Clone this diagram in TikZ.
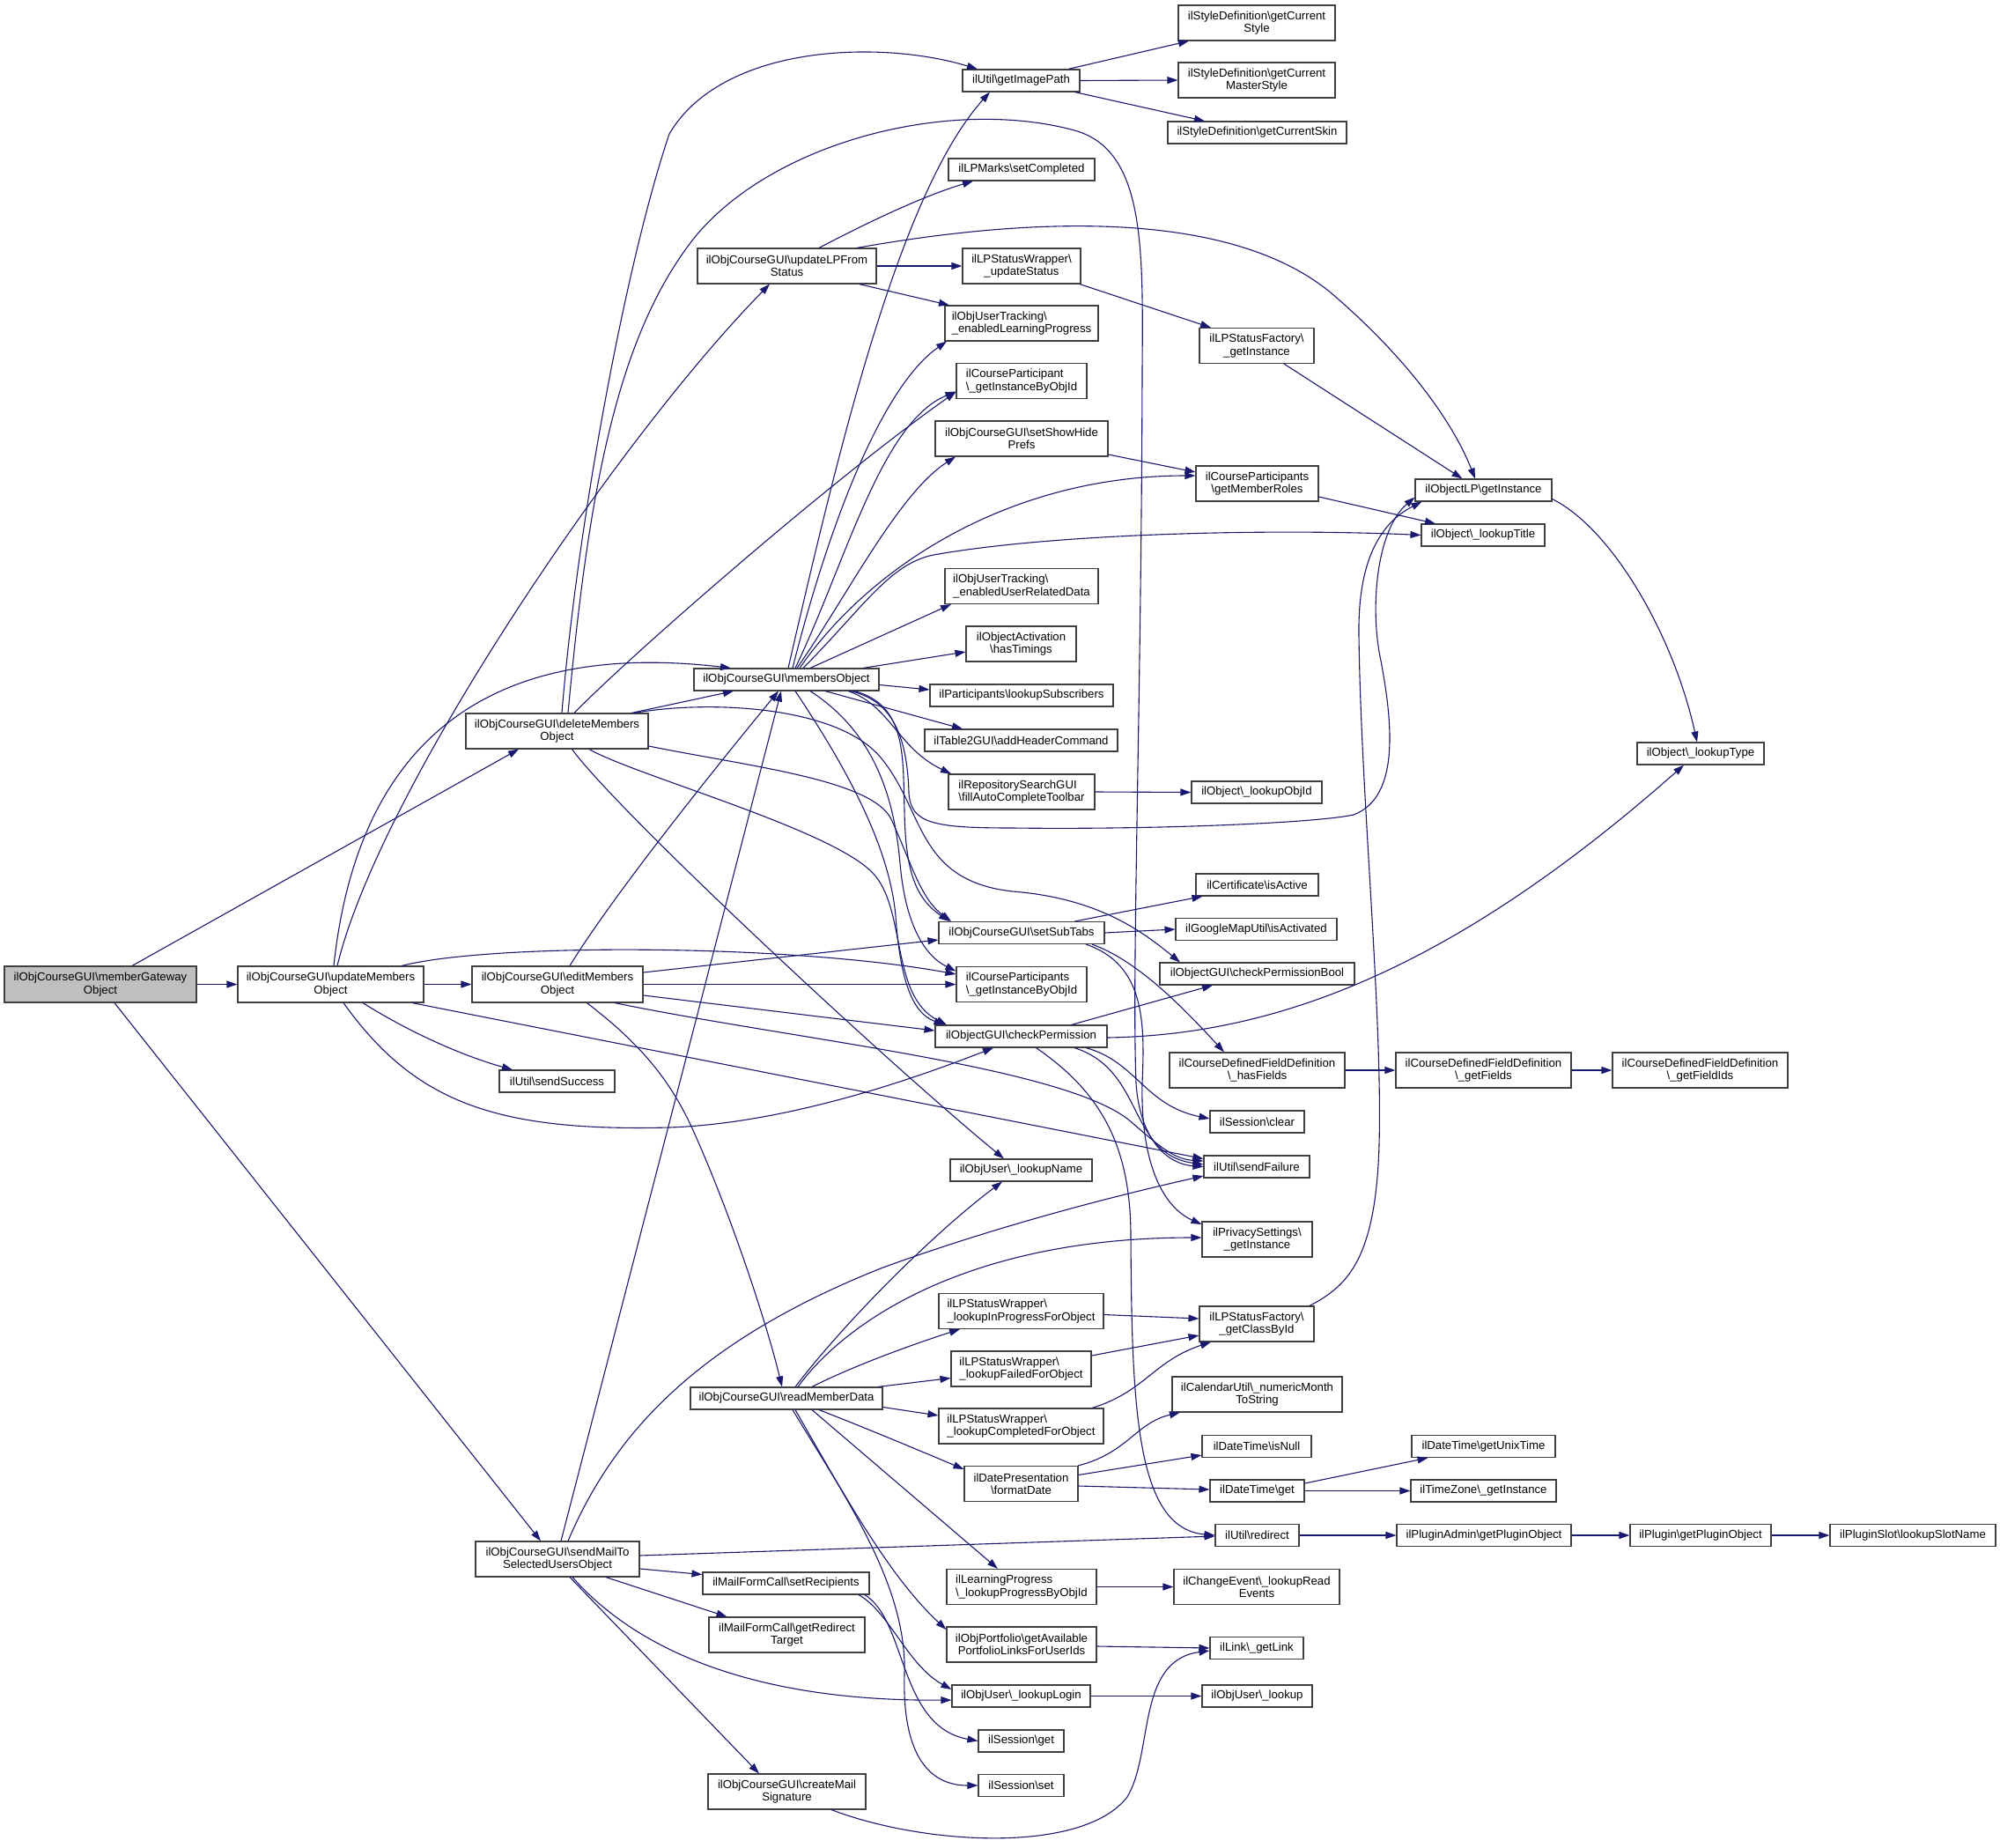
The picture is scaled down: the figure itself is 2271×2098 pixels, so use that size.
\documentclass[tikz,border=0pt]{standalone}
\usepackage{fontspec}
\setmainfont{Liberation Sans}
\usetikzlibrary{arrows.meta}
\definecolor{edgec}{HTML}{191970}
\newcommand\bs{\textbackslash}
\newcommand\mynode[7][]{\node[box,minimum width=#5pt,minimum height=#6pt,#1] (#2) at (#3,#4) {#7};}
\tikzset{
 box/.style={draw=black!75, line width=1.1pt, fill=white, inner sep=0pt, font=\fontsize{13.2}{14.3}\selectfont, align=center},
 e/.style={draw=edgec, line width=1.1pt, -{Triangle[length=12pt,width=8pt]}, fill=none},
}
\begin{document}
\begin{tikzpicture}[x=1pt,y=-1pt]
\useasboundingbox (0,0) rectangle (2271,2098);
% nodes
\mynode[fill=black!25]{mg}{114}{1117.5}{218}{41}{ilObjCourseGUI\bs memberGateway\\Object}
\mynode{del}{632.5}{830}{207}{40}{ilObjCourseGUI\bs deleteMembers\\Object}
\mynode{upd}{375.5}{1117.5}{211}{41}{ilObjCourseGUI\bs updateMembers\\Object}
\mynode{edit}{633}{1117.5}{194}{41}{ilObjCourseGUI\bs editMembers\\Object}
\mynode{succ}{632.5}{1227.5}{131}{25}{ilUtil\bs sendSuccess}
\mynode{mail}{633}{1770}{186}{40}{ilObjCourseGUI\bs sendMailTo\\SelectedUsersObject}
\mynode{lpfrom}{893.5}{302}{203}{40}{ilObjCourseGUI\bs updateLPFrom\\Status}
\mynode{mem}{893}{771.5}{210}{25}{ilObjCourseGUI\bs membersObject}
\mynode{rmd}{893}{1587.5}{218}{25}{ilObjCourseGUI\bs readMemberData}
\mynode{setrec}{892.5}{1797.5}{189}{25}{ilMailFormCall\bs setRecipients}
\mynode{redir}{893.5}{1856}{177}{40}{ilMailFormCall\bs getRedirect\\Target}
\mynode{sig}{893.5}{2034}{179}{40}{ilObjCourseGUI\bs createMail\\Signature}
\mynode{img}{1159.5}{91.5}{133}{25}{ilUtil\bs getImagePath}
\mynode{setc}{1160}{192.5}{166}{25}{ilLPMarks\bs setCompleted}
\mynode{upst}{1160}{302}{134}{40}{ilLPStatusWrapper\bs\\\_updateStatus}
\mynode[align=left]{elp}{1160}{367}{174}{40}{ilObjUserTracking\bs\\\_enabledLearningProgress}
\mynode[align=left]{cpgi}{1160}{432.5}{148}{40}{ilCourseParticipant\\\bs\_getInstanceByObjId}
\mynode{shp}{1160}{498}{196}{40}{ilObjCourseGUI\bs setShowHide\\Prefs}
\mynode[align=left]{eurd}{1160}{665.5}{174}{40}{ilObjUserTracking\bs\\\_enabledUserRelatedData}
\mynode{hast}{1159.5}{731}{125}{40}{ilObjectActivation\\\bs hasTimings}
\mynode{lsub}{1160}{789.5}{208}{25}{ilParticipants\bs lookupSubscribers}
\mynode{ahc}{1159.5}{840.5}{219}{25}{ilTable2GUI\bs addHeaderCommand}
\mynode[align=left]{fact}{1160}{899}{166}{40}{ilRepositorySearchGUI\\\bs fillAutoCompleteToolbar}
\mynode{sst}{1160}{1059}{188}{25}{ilObjCourseGUI\bs setSubTabs}
\mynode[align=left]{cpsgi}{1160}{1117.5}{148}{40}{ilCourseParticipants\\\bs\_getInstanceByObjId}
\mynode{cp}{1159.5}{1176.5}{195}{25}{ilObjectGUI\bs checkPermission}
\mynode{lname}{1159.5}{1328.5}{161}{25}{ilObjUser\bs\_lookupName}
\mynode[align=left]{lipo}{1159.5}{1488.5}{187}{40}{ilLPStatusWrapper\bs\\\_lookupInProgressForObject}
\mynode[align=left]{lffo}{1159.5}{1554}{159}{40}{ilLPStatusWrapper\bs\\\_lookupFailedForObject}
\mynode[align=left]{lcfo}{1159.5}{1619}{187}{40}{ilLPStatusWrapper\bs\\\_lookupCompletedForObject}
\mynode{fdate}{1159.5}{1684.5}{129}{40}{ilDatePresentation\\\bs formatDate}
\mynode[align=left]{lpbo}{1160}{1801.5}{170}{40}{ilLearningProgress\\\bs\_lookupProgressByObjId}
\mynode{port}{1160}{1867}{170}{40}{ilObjPortfolio\bs getAvailable\\PortfolioLinksForUserIds}
\mynode{llogin}{1159.5}{1925.5}{157}{25}{ilObjUser\bs\_lookupLogin}
\mynode{sget}{1159.5}{1976.5}{97}{25}{ilSession\bs get}
\mynode{sset}{1159.5}{2027}{97}{25}{ilSession\bs set}
\mynode{gcs}{1427}{26}{178}{40}{ilStyleDefinition\bs getCurrent\\Style}
\mynode{gcms}{1427}{91}{178}{40}{ilStyleDefinition\bs getCurrent\\MasterStyle}
\mynode{gcsk}{1427.5}{150.5}{203}{25}{ilStyleDefinition\bs getCurrentSkin}
\mynode{lpsfgi}{1427}{392.5}{130}{40}{ilLPStatusFactory\bs\\\_getInstance}
\mynode{gmr}{1427.5}{549}{139}{40}{ilCourseParticipants\\\bs getMemberRoles}
\mynode{lobjid}{1427}{899.5}{148}{25}{ilObject\bs\_lookupObjId}
\mynode{isact}{1427.5}{1004.5}{139}{25}{ilCertificate\bs isActive}
\mynode{gmap}{1426.5}{1055}{183}{25}{ilGoogleMapUtil\bs isActivated}
\mynode{cpb}{1427.5}{1105.5}{221}{25}{ilObjectGUI\bs checkPermissionBool}
\mynode{hasf}{1427.5}{1215}{199}{40}{ilCourseDefinedFieldDefinition\\\bs\_hasFields}
\mynode{sclr}{1427.5}{1273.5}{107}{25}{ilSession\bs clear}
\mynode{sfail}{1427}{1324.5}{120}{25}{ilUtil\bs sendFailure}
\mynode{priv}{1427.5}{1407}{125}{40}{ilPrivacySettings\bs\\\_getInstance}
\mynode{gcbi}{1427}{1503}{130}{40}{ilLPStatusFactory\bs\\\_getClassById}
\mynode{nmts}{1427.5}{1583}{193}{40}{ilCalendarUtil\bs\_numericMonth\\ToString}
\mynode{isnull}{1427}{1642}{124}{25}{ilDateTime\bs isNull}
\mynode{dtget}{1427.5}{1692.5}{107}{25}{ilDateTime\bs get}
\mynode{uredir}{1427.5}{1743}{95}{25}{ilUtil\bs redirect}
\mynode{lre}{1427}{1801.5}{188}{40}{ilChangeEvent\bs\_lookupRead\\Events}
\mynode{glink}{1427}{1871}{106}{25}{ilLink\bs\_getLink}
\mynode{lookup}{1427.5}{1925.5}{125}{25}{ilObjUser\bs\_lookup}
\mynode{olp}{1684.5}{556.5}{155}{25}{ilObjectLP\bs getInstance}
\mynode{ltitle}{1684}{607.5}{140}{25}{ilObject\bs\_lookupTitle}
\mynode{getf}{1684.5}{1215}{199}{40}{ilCourseDefinedFieldDefinition\\\bs\_getFields}
\mynode{getfi}{1930.5}{1215}{199}{40}{ilCourseDefinedFieldDefinition\\\bs\_getFieldIds}
\mynode{ltype}{1931}{855.5}{144}{25}{ilObject\bs\_lookupType}
\mynode{unix}{1684.5}{1642}{163}{25}{ilDateTime\bs getUnixTime}
\mynode{tz}{1684.5}{1692.5}{165}{25}{ilTimeZone\bs\_getInstance}
\mynode{pa}{1685}{1743}{198}{25}{ilPluginAdmin\bs getPluginObject}
\mynode{pl}{1931}{1743}{160}{25}{ilPlugin\bs getPluginObject}
\mynode{slot}{2172}{1743}{188}{25}{ilPluginSlot\bs lookupSlotName}
% edges: memberGateway
\draw[e] ([xshift=36pt]mg.north) -- ([xshift=-43.5pt]del.south);
\draw[e] (mg.east) -- (upd.west);
\draw[e] ([xshift=16pt]mg.south) -- ([xshift=-19pt]mail.north);
% updateMembers
\draw[e] (upd.east) -- (edit.west);
\draw[e] ([xshift=3.5pt]upd.north) .. controls (400,900) and (500,720) .. ([xshift=-63pt]mem.north);
\draw[e] ([xshift=7.5pt]upd.north) .. controls (430,900) and (700,500) .. ([xshift=-19.5pt]lpfrom.south);
\draw[e] ([xshift=80.5pt]upd.north) .. controls (560,1070) and (900,1072) .. ([yshift=11.5pt]cpsgi.west);
\draw[e] ([xshift=92.5pt]upd.south) -- ([yshift=9pt]sfail.west);
\draw[e] ([xshift=14.5pt]upd.south) .. controls (470,1250) and (560,1285) .. (760,1280) .. controls (900,1275) and (1050,1220) .. ([xshift=-31.5pt]cp.south);
\draw[e] ([xshift=36.5pt]upd.south) .. controls (470,1175) and (530,1200) .. ([xshift=-50.5pt]succ.north);
% deleteMembers
\draw[e] ([xshift=5.5pt]del.north) .. controls (655,600) and (710,300) .. (760,152) .. controls (820,50) and (1000,45) .. ([xshift=-49.5pt]img.north);
\draw[e] ([xshift=12.5pt]del.north) .. controls (668,560) and (700,380) .. (790,268) .. controls (880,160) and (1080,110) .. (1220,148) .. controls (1300,170) and (1298,280) .. (1297,420) .. controls (1296,800) and (1285,1100) .. (1290,1230) .. controls (1295,1300) and (1330,1322) .. (sfail.west);
\draw[e] ([xshift=19.5pt]del.north) .. controls (720,740) and (950,540) .. ([yshift=-12.5pt]cpgi.west);
\draw[e] ([xshift=84.5pt]del.north) -- ([xshift=-60pt]mem.south);
\draw[e] ([xshift=88pt]del.north) .. controls (800,795) and (950,800) .. (1000,860) .. controls (1050,920) and (1040,1000) .. (1150,1012) .. controls (1250,1020) and (1300,1060) .. ([xshift=-87.5pt]cpb.north);
\draw[e] ([yshift=-17pt]del.east) .. controls (850,870) and (990,885) .. (1012,930) .. controls (1035,980) and (1045,1020) .. ([xshift=-80pt]sst.north);
\draw[e] ([xshift=36.5pt]del.south) .. controls (720,880) and (940,940) .. (990,990) .. controls (1030,1030) and (1010,1130) .. ([xshift=-84.5pt]cp.north);
\draw[e] ([xshift=17pt]del.south) .. controls (700,920) and (1000,1200) .. ([xshift=-19.5pt]lname.north);
% editMembers
\draw[e] ([xshift=14pt]edit.north) .. controls (700,1010) and (830,850) .. ([xshift=-9pt]mem.south);
\draw[e] ([yshift=13.5pt]edit.east) -- ([yshift=-8pt]sst.west);
\draw[e] (edit.east) -- (cpsgi.west);
\draw[e] ([yshift=-12.5pt]edit.east) -- ([yshift=6.5pt]cp.west);
\draw[e] ([xshift=65pt]edit.south) .. controls (900,1180) and (1200,1210) .. (1280,1270) .. controls (1310,1295) and (1330,1316) .. ([yshift=6.5pt]sfail.west);
\draw[e] ([xshift=33.5pt]edit.south) .. controls (720,1180) and (760,1220) .. (790,1290) .. controls (830,1380) and (870,1500) .. ([xshift=-5pt]rmd.north);
% sendMail
\draw[e] ([xshift=4pt]mail.north) -- ([xshift=-6pt]mem.south);
\draw[e] ([xshift=12pt]mail.north) .. controls (700,1620) and (800,1520) .. (1000,1440) .. controls (1150,1385) and (1300,1350) .. ([yshift=-10.5pt]sfail.west);
\draw[e] ([yshift=4pt]mail.east) -- ([yshift=-1pt]uredir.west);
\draw[e] ([yshift=-11pt]mail.east) -- ([yshift=10pt]setrec.west);
\draw[e] ([xshift=55pt]mail.south) -- ([xshift=-68pt]redir.north);
\draw[e] ([xshift=17pt]mail.south) .. controls (720,1870) and (850,1932) .. ([yshift=-4.5pt]llogin.west);
\draw[e] ([xshift=14pt]mail.south) -- ([xshift=-31.5pt]sig.north);
\draw[e] ([xshift=50.5pt]sig.south) .. controls (1050,2095) and (1230,2105) .. (1280,2040) .. controls (1310,1990) and (1290,1885) .. ([yshift=-3pt]glink.west);
\draw[e] ([xshift=82.5pt]setrec.south) .. controls (1010,1830) and (1030,1890) .. ([yshift=7.5pt]llogin.west);
\draw[e] ([xshift=89.5pt]setrec.south) .. controls (1030,1840) and (1020,1960) .. (sget.west);
% readMemberData
\draw[e] ([xshift=7pt]rmd.south) .. controls (960,1700) and (1030,1800) .. (1027,1900) .. controls (1024,2000) and (1060,2027) .. (sset.west);
\draw[e] ([xshift=10pt]rmd.south) .. controls (960,1700) and (1010,1790) .. ([yshift=17pt]port.west);
\draw[e] ([xshift=29pt]rmd.south) -- ([xshift=-27pt]lpbo.north);
\draw[e] ([xshift=37pt]rmd.south) .. controls (980,1620) and (1040,1645) .. ([yshift=16.5pt]fdate.west);
\draw[e] ([yshift=-10pt]rmd.east) -- ([yshift=12pt]lcfo.west);
\draw[e] ([xshift=104pt]rmd.north) -- ([yshift=-10.5pt]lffo.west);
\draw[e] ([xshift=29pt]rmd.north) .. controls (970,1550) and (1040,1525) .. ([xshift=-69.5pt]lipo.south);
\draw[e] ([xshift=10pt]rmd.north) .. controls (960,1500) and (1060,1400) .. ([xshift=-21.5pt]lname.south);
\draw[e] ([xshift=13pt]rmd.north) .. controls (960,1500) and (1100,1405) .. ([yshift=2pt]priv.west);
\draw[e] ([yshift=-4pt]lipo.east) -- ([yshift=6pt]gcbi.west);
\draw[e] ([yshift=15pt]lffo.east) -- ([yshift=-13pt]gcbi.west);
\draw[e] ([xshift=80.5pt]lcfo.north) .. controls (1300,1580) and (1310,1545) .. ([xshift=-52pt]gcbi.south);
\draw[e] ([xshift=60pt]gcbi.north) .. controls (1530,1460) and (1562,1430) .. (1566,1300) .. controls (1570,1150) and (1545,900) .. (1543,720) .. controls (1542,640) and (1565,595) .. ([xshift=-70pt]olp.south);
% membersObject
\draw[e] ([xshift=73pt]mem.south) .. controls (1010,795) and (1030,830) .. (1032,900) .. controls (1034,935) and (1060,940) .. (1150,940) .. controls (1300,942) and (1490,935) .. (1537,925) .. controls (1590,905) and (1582,820) .. (1566,740) .. controls (1556,680) and (1565,600) .. ([yshift=-8pt]olp.west);
\draw[e] ([xshift=2pt]mem.north) .. controls (950,520) and (1020,220) .. ([xshift=-35.5pt]img.south);
\draw[e] ([xshift=7pt]mem.north) .. controls (940,600) and (1000,440) .. ([xshift=-85pt]elp.south);
\draw[e] ([xshift=10pt]mem.north) .. controls (960,640) and (1000,480) .. ([yshift=-12pt]cpgi.west);
\draw[e] ([xshift=12pt]mem.north) .. controls (960,680) and (1020,560) .. ([xshift=-75pt]shp.south);
\draw[e] ([xshift=15pt]mem.north) .. controls (990,640) and (1150,540) .. ([yshift=9pt]gmr.west);
\draw[e] ([xshift=19pt]mem.north) .. controls (980,690) and (1010,640) .. (1060,630) .. controls (1200,605) and (1450,600) .. (ltitle.west);
\draw[e] ([xshift=27pt]mem.north) -- ([xshift=-80pt]eurd.south);
\draw[e] ([xshift=87pt]mem.north) -- ([yshift=-9pt]hast.west);
\draw[e] ([yshift=-6pt]mem.east) -- ([yshift=6.5pt]lsub.west);
\draw[e] ([xshift=44pt]mem.south) -- ([xshift=-66.5pt]ahc.north);
\draw[e] ([xshift=70pt]mem.south) .. controls (1010,800) and (1020,850) .. ([xshift=-80pt]fact.north);
\draw[e] ([xshift=77pt]mem.south) .. controls (1030,800) and (1025,860) .. (1027,920) .. controls (1028,990) and (1040,1020) .. ([xshift=-82pt]sst.north);
\draw[e] ([xshift=27pt]mem.south) .. controls (990,830) and (1015,900) .. (1022,980) .. controls (1028,1050) and (1050,1085) .. ([yshift=15pt]cpsgi.west);
\draw[e] ([xshift=10pt]mem.south) .. controls (960,870) and (1010,960) .. (1017,1040) .. controls (1022,1110) and (1035,1150) .. ([xshift=-87pt]cp.north);
% updateLPFromStatus
\draw[e] ([xshift=36.5pt]lpfrom.north) .. controls (990,250) and (1050,222) .. ([xshift=-55pt]setc.south);
\draw[e] (lpfrom.east) -- (upst.west);
\draw[e] ([xshift=82pt]lpfrom.south) -- ([xshift=-82pt]elp.north);
\draw[e] ([xshift=79.5pt]lpfrom.north) .. controls (1150,250) and (1400,230) .. (1520,340) .. controls (1600,410) and (1650,480) .. ([xshift=-9.5pt]olp.north);
\draw[e] ([xshift=66pt]upst.south) -- ([xshift=-52pt]lpsfgi.north);
\draw[e] ([xshift=31pt]lpsfgi.south) -- ([xshift=-24pt]olp.north);
\draw[e] ([yshift=-18pt]shp.east) -- ([yshift=13pt]gmr.west);
\draw[e] ([yshift=-15pt]gmr.east) -- ([xshift=-54pt]ltitle.north);
\draw[e] ([yshift=-10pt]olp.east) .. controls (1830,600) and (1900,720) .. ([xshift=-4pt]ltype.north);
\draw[e] (fact.east) -- (lobjid.west);
% setSubTabs
\draw[e] ([xshift=60.5pt]sst.north) -- ([xshift=-62pt]isact.south);
\draw[e] (sst.east) -- (gmap.west);
\draw[e] ([xshift=80pt]sst.south) .. controls (1290,1090) and (1340,1140) .. ([xshift=-37.5pt]hasf.north);
\draw[e] ([xshift=73pt]sst.south) .. controls (1300,1095) and (1300,1160) .. (1297,1230) .. controls (1295,1320) and (1320,1370) .. ([yshift=17pt]priv.west);
\draw[e] (hasf.east) -- (getf.west);
\draw[e] (getf.east) -- (getfi.west);
% checkPermission
\draw[e] ([xshift=57pt]cp.north) -- ([xshift=-50.5pt]cpb.south);
\draw[e] ([yshift=-1.5pt]cp.east) .. controls (1450,1175) and (1650,1100) .. ([xshift=-19pt]ltype.south);
\draw[e] ([xshift=73.5pt]cp.south) .. controls (1290,1205) and (1300,1255) .. ([yshift=3.5pt]sclr.west);
\draw[e] ([xshift=60.5pt]cp.south) .. controls (1300,1215) and (1280,1310) .. ([yshift=2.5pt]sfail.west);
\draw[e] ([xshift=17pt]cp.south) .. controls (1250,1240) and (1283,1300) .. (1284,1400) .. controls (1285,1600) and (1290,1735) .. (uredir.west);
% formatDate etc.
\draw[e] ([xshift=64.5pt]fdate.north) .. controls (1280,1650) and (1290,1615) .. ([xshift=-87.5pt]nmts.south);
\draw[e] ([yshift=10pt]fdate.east) -- ([yshift=-10pt]isnull.west);
\draw[e] ([yshift=-2.5pt]fdate.east) -- ([yshift=1.5pt]dtget.west);
\draw[e] ([yshift=8.5pt]dtget.east) -- ([xshift=-63pt]unix.south);
\draw[e] (dtget.east) -- (tz.west);
\draw[e] (uredir.east) -- (pa.west);
\draw[e] (pa.east) -- (pl.west);
\draw[e] (pl.east) -- (slot.west);
\draw[e] (lpbo.east) -- (lre.west);
\draw[e] ([yshift=-2pt]port.east) -- ([yshift=0pt]glink.west);
\draw[e] (llogin.east) -- (lookup.west);
% getImagePath
\draw[e] ([xshift=53.5pt]img.north) -- ([xshift=-77pt]gcs.south);
\draw[e] (img.east) -- (gcms.west);
\draw[e] ([xshift=61pt]img.south) -- ([xshift=-59.5pt]gcsk.north);
\end{tikzpicture}
\end{document}
